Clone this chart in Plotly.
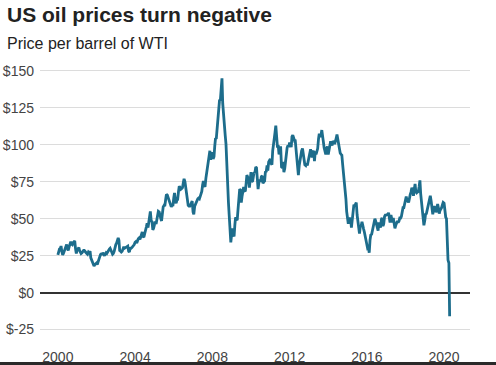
import pandas as pd
import plotly.graph_objects as go

# Semi-monthly WTI spot price readings (USD per barrel), Jan 2000 - Apr 2020
price_2000_2004 = [
    25.5, 28.5, 29.5, 29.8, 31.5, 28.0, 25.5, 26.5, 28.5, 29.5, 31.5, 32.5,
    30.0, 28.5, 31.0, 32.5, 34.5, 33.0, 32.5, 33.8, 34.5, 35.0, 29.5, 26.5,
    29.0, 30.0, 30.5, 28.5, 27.5, 26.5, 27.0, 28.0, 28.5, 28.5, 27.5, 26.5,
    26.5, 26.0, 27.5, 27.0, 28.0, 23.5, 22.0, 22.0, 19.5, 18.0, 19.0, 19.5,
    20.0, 19.0, 20.5, 21.5, 24.0, 25.5, 26.5, 25.5, 27.0, 26.0, 25.0, 26.0,
    27.0, 26.5, 28.0, 29.0, 29.5, 30.0, 29.0, 27.5, 26.0, 26.5, 28.0, 31.0,
    32.5, 33.5, 35.5, 37.0, 35.5, 28.5, 28.0, 27.5, 28.0, 29.5, 31.0, 30.0,
    30.5, 31.0, 31.5, 31.5, 28.0, 27.5, 30.5, 30.0, 30.5, 31.0, 32.0, 32.5,
    34.0, 34.5, 33.5, 35.5, 36.5, 37.0, 36.0, 37.5, 40.5, 41.0, 38.0, 37.5,
    40.0, 41.5, 44.5, 47.0, 44.0, 47.5, 52.5, 55.0, 48.5, 48.0, 42.5, 43.5,
]
price_2005_2009 = [
    46.0, 48.0, 46.5, 50.5, 54.0, 55.0, 54.5, 51.5, 50.0, 48.5, 54.5, 58.0,
    59.0, 58.5, 63.0, 66.5, 66.0, 64.5, 62.0, 61.5, 58.5, 58.0, 59.5, 58.5,
    64.0, 67.5, 62.0, 60.5, 62.5, 63.0, 68.5, 72.0, 71.0, 70.0, 70.5, 71.0,
    74.5, 77.0, 75.0, 71.5, 66.0, 61.0, 59.0, 58.5, 58.5, 59.5, 62.0, 62.0,
    54.5, 53.0, 58.5, 60.0, 60.0, 61.5, 63.5, 64.0, 63.5, 65.0, 66.5, 68.5,
    73.0, 75.5, 72.5, 71.5, 77.5, 81.5, 82.5, 88.0, 94.5, 96.0, 90.0, 93.5,
    95.0, 90.5, 92.0, 99.0, 104.5, 104.0, 110.0, 117.5, 123.5, 130.0, 130.5, 136.0,
    145.0, 128.0, 117.0, 115.5, 106.0, 100.5, 85.0, 68.0, 60.5, 52.0, 44.0, 34.0,
    40.0, 43.5, 39.5, 38.0, 45.5, 51.0, 49.5, 49.0, 56.5, 61.0, 70.0, 69.5,
    61.0, 65.0, 71.0, 71.5, 69.0, 68.5, 74.0, 79.5, 78.0, 77.5, 71.0, 76.5,
]
price_2010_2014 = [
    81.5, 75.0, 75.5, 78.5, 81.5, 81.0, 85.0, 84.5, 73.0, 70.0, 75.0, 76.5,
    75.0, 78.5, 79.0, 74.0, 75.0, 75.5, 82.0, 81.5, 86.0, 82.5, 88.5, 90.0,
    90.5, 87.5, 86.5, 96.0, 101.5, 104.0, 108.5, 113.0, 101.0, 99.0, 99.0, 93.5,
    96.5, 99.0, 85.0, 84.5, 88.5, 81.5, 84.0, 88.5, 96.5, 98.0, 99.5, 98.5,
    101.5, 99.0, 98.5, 105.5, 106.5, 105.0, 103.0, 103.5, 98.0, 91.0, 84.0, 79.5,
    86.0, 90.0, 93.0, 96.0, 97.5, 92.5, 91.0, 86.5, 86.0, 87.5, 86.0, 89.0,
    93.0, 95.5, 97.0, 93.5, 91.5, 95.0, 96.0, 89.0, 95.5, 93.5, 95.5, 97.5,
    104.0, 107.5, 106.0, 106.0, 110.0, 104.0, 102.0, 98.0, 94.0, 93.5, 97.0, 99.0,
    93.5, 96.5, 99.5, 102.5, 101.0, 99.5, 102.5, 102.0, 100.5, 103.5, 104.5, 107.0,
    103.0, 102.0, 97.5, 94.5, 93.5, 93.0, 86.5, 81.5, 76.5, 73.5, 63.5, 55.0,
]
price_2015_2020 = [
    48.5, 46.5, 50.5, 50.0, 49.5, 44.0, 51.5, 56.5, 59.5, 58.5, 60.0, 61.0,
    52.5, 49.0, 43.0, 40.0, 45.5, 45.0, 48.0, 44.5, 43.0, 41.0, 37.5, 36.5,
    33.5, 30.0, 30.5, 27.0, 35.5, 39.0, 39.5, 42.5, 46.0, 48.5, 50.0, 48.5,
    45.5, 43.5, 42.0, 47.5, 45.5, 44.0, 49.5, 50.5, 45.0, 46.5, 51.5, 52.5,
    52.5, 52.5, 53.0, 54.0, 50.5, 47.5, 52.5, 50.0, 47.5, 50.5, 46.5, 43.5,
    45.5, 47.5, 48.5, 47.5, 48.5, 50.5, 50.5, 51.5, 56.5, 57.5, 57.5, 59.5,
    62.5, 65.0, 61.5, 62.0, 61.0, 64.5, 66.5, 68.0, 71.0, 69.5, 65.5, 69.5,
    73.5, 68.5, 67.5, 68.0, 68.5, 71.5, 76.0, 67.0, 60.5, 53.5, 51.0, 45.5,
    49.0, 53.0, 53.5, 56.0, 57.5, 59.5, 63.5, 65.5, 62.0, 59.0, 53.0, 56.0,
    58.5, 56.5, 54.5, 55.5, 60.0, 57.5, 53.5, 55.5, 56.5, 57.5, 59.5, 61.0,
    60.5, 54.5, 51.0, 50.0, 33.0, 22.0, 20.0, -16.0,
]
wti_price = price_2000_2004 + price_2005_2009 + price_2010_2014 + price_2015_2020
dates = pd.date_range("2000-01-01", periods=len(wti_price), freq="SMS")

y_ticks = [-25, 0, 25, 50, 75, 100, 125, 150]
y_labels = ["$-25", "$0", "$25", "$50", "$75", "$100", "$125", "$150"]
x_ticks = ["2000-01-01", "2004-01-01", "2008-01-01", "2012-01-01", "2016-01-01", "2020-01-01"]
x_labels = ["2000", "2004", "2008", "2012", "2016", "2020"]

FONT = "Liberation Sans, Arial, sans-serif"
LINE_COLOR = "#1d6d8c"

W, H = 496, 365
left, right, top, bottom = 40, 26, 68, 31
pw, ph = W - left - right, H - top - bottom

fig = go.Figure()
fig.add_trace(go.Scatter(
    x=dates, y=wti_price, mode="lines",
    line=dict(color=LINE_COLOR, width=2.8),
    hoverinfo="x+y", showlegend=False,
))

fig.update_layout(
    width=W, height=H,
    margin=dict(l=left, r=right, t=top, b=bottom, autoexpand=False),
    paper_bgcolor="white", plot_bgcolor="white",
    font=dict(family=FONT, color="#444444", size=14),
    xaxis=dict(
        type="date", range=["1999-01-28", "2021-05-05"],
        tickvals=x_ticks, ticktext=x_labels, automargin=False,
        showgrid=False, zeroline=False, showline=False,
        ticks="outside", ticklen=10, tickcolor="rgba(0,0,0,0)",
        tickfont=dict(size=14, color="#444444"),
    ),
    yaxis=dict(
        range=[-28, 152], automargin=False,
        tickvals=y_ticks, ticktext=y_labels,
        showgrid=True, gridcolor="#dcdcdc", gridwidth=1,
        zeroline=True, zerolinecolor="#333333", zerolinewidth=2,
        showline=False,
        ticks="", ticklabelstandoff=5,
        tickfont=dict(size=14, color="#444444"),
    ),
    annotations=[
        dict(text="<b>US oil prices turn negative</b>", xref="paper", yref="paper",
             x=-(left - 5) / pw, y=1 + (top - 14) / ph, xanchor="left", yanchor="middle",
             showarrow=False, font=dict(family=FONT, size=21, color="#222222")),
        dict(text="Price per barrel of WTI", xref="paper", yref="paper",
             x=-(left - 5) / pw, y=1 + (top - 43) / ph, xanchor="left", yanchor="middle",
             showarrow=False, font=dict(family=FONT, size=16, color="#222222")),
    ],
)

# dark frame edge along the bottom of the image
fig.add_shape(type="rect", xref="paper", yref="paper",
              x0=-left / pw, x1=(W - left) / pw, y0=-(bottom) / ph, y1=-(bottom - 3) / ph,
              line=dict(width=0), fillcolor="#2a2a2a", layer="above")

fig.write_html("out.html", config={"displayModeBar": False},
               post_script="document.body.style.margin='0';")
